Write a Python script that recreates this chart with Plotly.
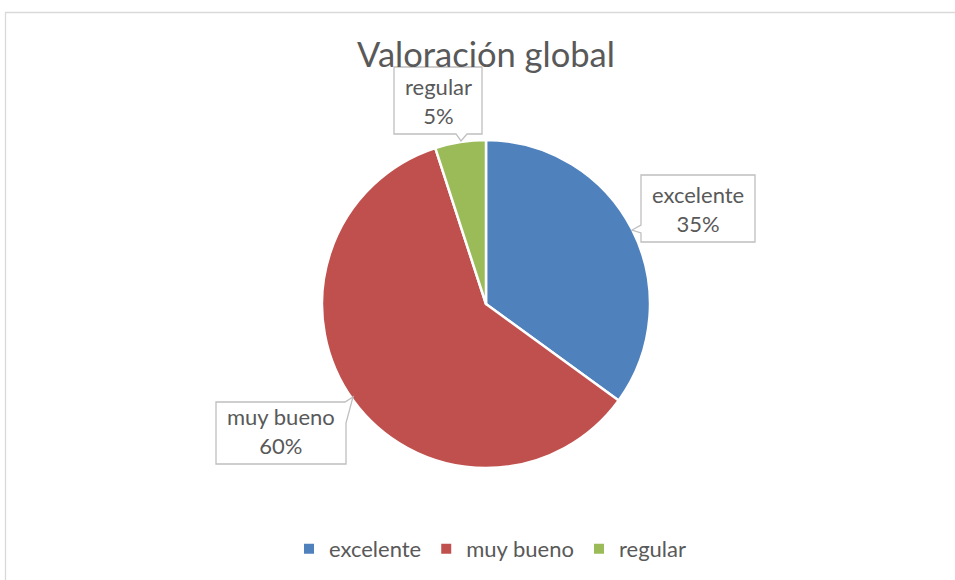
import plotly.graph_objects as go

W, H = 955, 580

categories = ["excelente", "muy bueno", "regular"]
values = [35, 60, 5]
colors = ["#4F81BD", "#C0504D", "#9BBB59"]
title_text = "Valoración global"

FONT = "Lato, Carlito, Calibri, sans-serif"
GRAY = "#595959"


def px(x):
    return x / W


def py(y):
    return 1 - y / H


fig = go.Figure()
fig.add_trace(go.Pie(
    labels=categories,
    values=values,
    sort=False,
    direction="clockwise",
    rotation=0,
    marker=dict(colors=colors, line=dict(color="white", width=2.5)),
    textinfo="none",
    hoverinfo="label+percent",
    domain=dict(x=[px(322), px(650)], y=[py(468), py(140)]),
))


def path(points):
    return "M " + " L ".join(f"{px(x):.5f},{py(y):.5f}" for x, y in points) + " Z"


callouts = [
    # regular
    [(394, 67), (482, 67), (482, 134), (467, 134), (461, 141), (456, 134), (394, 134)],
    # excelente
    [(641, 175), (755, 175), (755, 242), (641, 242), (641, 233), (632, 230), (641, 225)],
    # muy bueno
    [(216, 402), (345, 402), (353, 397), (346, 423), (346, 464), (216, 464)],
]
shapes = []
for pts in callouts:
    shapes.append(dict(type="path", xref="paper", yref="paper", path=path(pts),
                       line=dict(color="#BFBFBF", width=1.3), fillcolor="white", layer="above"))

# outer chart border
shapes.append(dict(type="rect", xref="paper", yref="paper",
                   x0=px(5.5), x1=px(975), y0=py(12.5), y1=py(600),
                   line=dict(color="#D9D9D9", width=1.3), fillcolor="rgba(0,0,0,0)", layer="below"))

label_pos = [(698, 209), (281, 431), (438, 101)]
annotations = []
for (cx, cy), lab, v in zip(label_pos, categories, values):
    annotations.append(dict(
        x=px(cx), y=py(cy), xref="paper", yref="paper",
        text=f"{lab}<br>{v}%", showarrow=False,
        font=dict(family=FONT, size=22, color=GRAY),
        align="center", xanchor="center", yanchor="middle",
    ))

fig.update_layout(
    width=W, height=H,
    margin=dict(l=0, r=0, t=0, b=0),
    paper_bgcolor="white",
    plot_bgcolor="white",
    title=dict(text=title_text, x=px(486), y=py(55), xanchor="center", yanchor="middle",
               font=dict(family=FONT, size=34.5, color=GRAY)),
    showlegend=True,
    legend=dict(orientation="h", x=px(490), y=py(549), xanchor="center", yanchor="middle",
                font=dict(family=FONT, size=22, color=GRAY),
                itemsizing="constant", traceorder="normal", itemwidth=30),
    shapes=shapes,
    annotations=annotations,
)

fig.write_html("out.html",
               config={"displayModeBar": False},
               post_script="document.body.style.margin='0px';document.body.style.overflow='hidden';")
